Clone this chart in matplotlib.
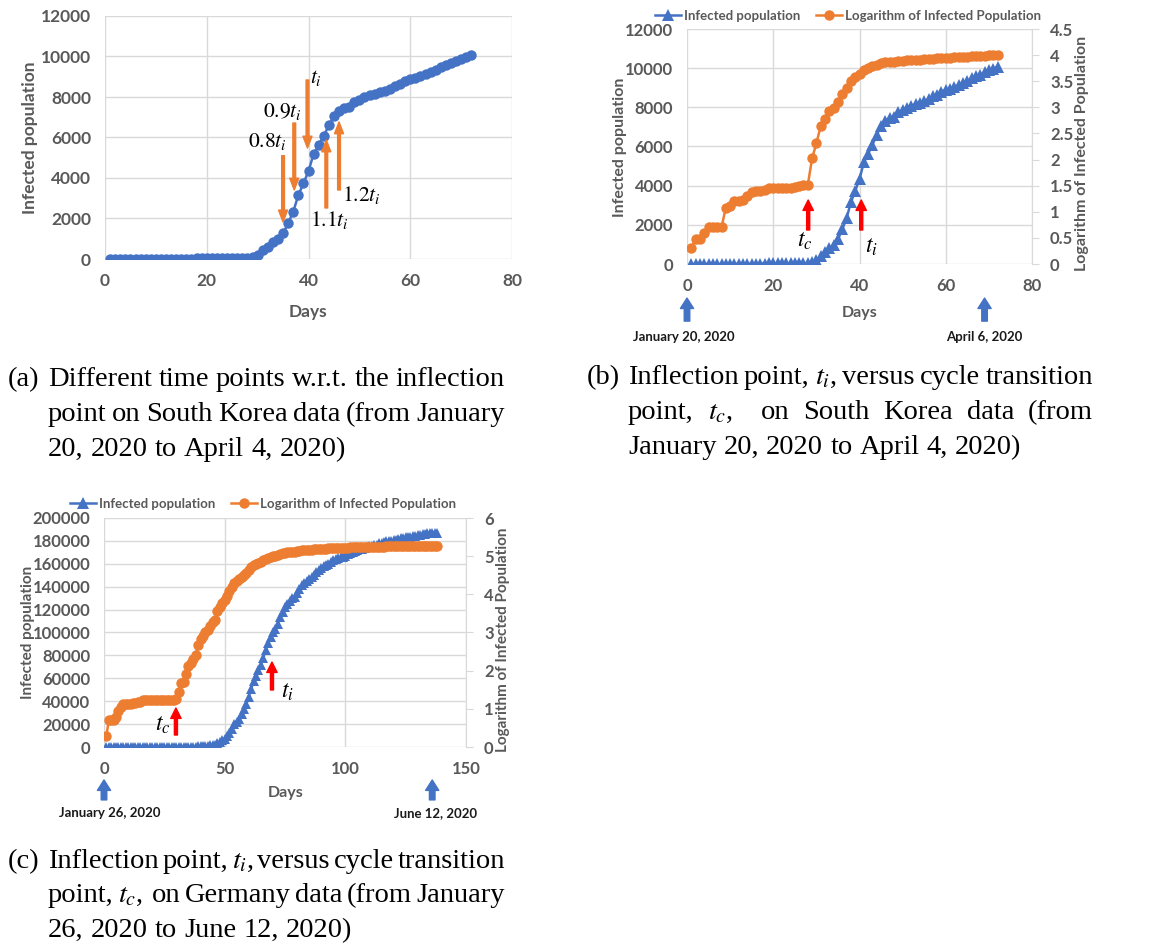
import matplotlib
matplotlib.use('Agg')
import matplotlib.pyplot as plt
from matplotlib.lines import Line2D
import numpy as np

# Dimensioni della figura in pixel
W, H = 1155, 946

# Corea del Sud: casi cumulativi (giorni 1..72)
korea_days = list(range(1, 73))
korea_cases = [1, 2, 2, 3, 4, 4, 4, 4, 11, 12, 15, 15, 16, 19, 23, 24, 24, 25, 27, 28,
               28, 28, 28, 28, 29, 30, 31, 31, 104, 204, 433, 602, 833, 977, 1261, 1766,
               2337, 3150, 3736, 4335, 5186, 5621, 6088, 6593, 7041, 7314, 7478, 7513,
               7755, 7869, 7979, 8086, 8162, 8236, 8320, 8413, 8565, 8652, 8799, 8897,
               8961, 9037, 9137, 9241, 9332, 9478, 9583, 9661, 9786, 9887, 9976, 10062]

# Germania: casi cumulativi (giorni 1..138)
germany_days = list(range(1, 139))
germany_cases = [1, 4, 4, 4, 5,
                 8, 10, 12, 12, 12, 12, 13, 13, 14, 14, 16, 16, 16, 16, 16, 16, 16, 16,
                 16, 16, 16, 16, 16, 16, 17, 27, 46, 48, 79,
                 130, 159, 196, 262, 482, 670, 799, 1040, 1176, 1457, 1908, 2078, 3675,
                 4585, 5795, 7272, 9257, 12327, 15320, 19848, 22213, 24873, 29056, 32986,
                 37323, 43938, 50871, 57695, 62095, 66885, 71808,
                 77872, 84794, 91159, 96092, 100123, 103374, 107663, 113296, 118181,
                 122171, 124908, 127854, 130072, 131359, 134753, 137698, 141397, 143342,
                 145184, 147065, 148291, 150648, 153129, 154999, 156513, 157770, 158758,
                 159912, 161539, 163009,
                 164077, 164967, 165664, 166152, 167007, 168162, 169430, 170588, 171324,
                 171879, 172576, 173171, 174098, 174478, 175233, 175752, 176369, 176551,
                 177778, 178473, 179021, 179710, 179986, 180328, 180600, 181200, 181524,
                 182196, 182922, 183189, 183410,
                 183594, 184121, 184472, 184924, 185450, 185750, 186109, 186506, 186522,
                 186691, 187226, 187267]

korea_log = np.log10(np.array(korea_cases) + 1)
germany_log = np.log10(np.array(germany_cases) + 1)

BLUE = '#4472C4'
ORANGE = '#ED7D31'
GRAY = '#595959'
GRID = '#D9D9D9'

plt.rcParams['font.family'] = ['Lato', 'DejaVu Sans']
plt.rcParams['mathtext.fontset'] = 'stix'

fig = plt.figure(figsize=(W / 100, H / 100), dpi=100)


def fx(x):
    return x / W


def fy(y):
    return 1 - y / H


def make_ax(left, right, top, bottom):
    return fig.add_axes([fx(left), fy(bottom), (right - left) / W, (bottom - top) / H])


def bold_ticks(ax):
    for lab in ax.get_xticklabels() + ax.get_yticklabels():
        lab.set_fontweight('bold')


def style(ax, size):
    ax.grid(True, color=GRID, lw=1.0)
    ax.set_axisbelow(True)
    for s in ax.spines.values():
        s.set_visible(False)
    ax.tick_params(length=0, labelsize=size, labelcolor=GRAY, pad=10)
    bold_ticks(ax)


def arrow(ax, x, y0, y1, color, hw, hl, tw):
    ax.annotate('', xy=(x, y1), xytext=(x, y0),
                arrowprops=dict(arrowstyle=f'simple,head_width={hw},head_length={hl},tail_width={tw}',
                                color=color, shrinkA=0, shrinkB=0, mutation_scale=10),
                annotation_clip=False)


def date_arrow(ax, x, f0, f1):
    ax.annotate('', xy=(x, f1), xytext=(x, f0), xycoords=('data', 'axes fraction'),
                textcoords=('data', 'axes fraction'),
                arrowprops=dict(arrowstyle='simple,head_width=0.95,head_length=0.75,tail_width=0.4',
                                color=BLUE, shrinkA=0, shrinkB=0, mutation_scale=10),
                annotation_clip=False)


def right_axis(ax2, size):
    for s in ax2.spines.values():
        s.set_visible(False)
    ax2.spines['right'].set_visible(True)
    ax2.spines['right'].set_color(GRID)
    ax2.tick_params(axis='y', length=5, color=GRID, labelsize=size, labelcolor=GRAY, pad=8)
    bold_ticks(ax2)


def label(x, y, s, size, rot=0):
    fig.text(fx(x), fy(y), s, rotation=rot, ha='center', va='center',
             fontsize=size, color=GRAY, fontweight='bold')


# ---------------- (a) ----------------
axa = make_ax(105, 512, 16, 259)
axa.plot(korea_days, korea_cases, color=BLUE, lw=1.8, marker='o', ms=7.5, mew=0)
axa.set_xlim(0, 80)
axa.set_ylim(0, 12000)
axa.set_xticks(range(0, 81, 20))
axa.set_yticks(range(0, 12001, 2000))
style(axa, 12.5)
label(30, 138, 'Infected population', 12.5, 90)
label(308, 312, 'Days', 12.5)

# frecce arancioni: (x, coda, punta)
arrows_a = [(35.0, 5100, 1830), (37.2, 6716, 3407), (39.8, 8840, 5480),
            (43.5, 2520, 5877), (46.0, 3407, 6770)]
for x, y0, y1 in arrows_a:
    arrow(axa, x, y0, y1, ORANGE, 0.65, 0.85, 0.2)
labels_a = [(35.8, 5780, '$0.8t_i$', 'right'), (38.7, 7300, '$0.9t_i$', 'right'),
            (40.3, 8940, '$t_i$', 'left'), (40.3, 1930, '$1.1t_i$', 'left'),
            (46.6, 3160, '$1.2t_i$', 'left')]
for x, y, s, ha in labels_a:
    axa.text(x, y, s, ha=ha, va='center', fontsize=15.5)

# ---------------- (b) ----------------
axb = make_ax(687, 1032, 29, 264)
axb.plot(korea_days, korea_cases, color=BLUE, lw=1.8, marker='^', ms=8, mew=0)
axb.set_xlim(0, 80)
axb.set_ylim(0, 12000)
axb.set_xticks(range(0, 81, 20))
axb.set_yticks(range(0, 12001, 2000))
style(axb, 12)
axb2 = axb.twinx()
axb2.plot(korea_days, korea_log, color=ORANGE, lw=1.8, marker='o', ms=7.5, mew=0)
axb2.set_ylim(0, 4.5)
axb2.set_yticks(np.arange(0, 4.51, 0.5))
axb2.set_yticklabels([f'{v:g}' for v in np.arange(0, 4.51, 0.5)])
right_axis(axb2, 12)
label(620, 147, 'Infected population', 11.5, 90)
label(1082, 153, 'Logarithm of Infected Population', 11.5, 90)
label(860, 313, 'Days', 11.5)

arrows_b = [(28.1, 1736, 3268), (40.4, 1736, 3268)]
for x, y0, y1 in arrows_b:
    arrow(axb, x, y0, y1, 'red', 0.75, 0.75, 0.22)
axb.text(27.4, 1175, '$t_c$', ha='center', va='center', fontsize=17)
axb.text(42.7, 870, '$t_i$', ha='center', va='center', fontsize=17)

date_arrow(axb, 0, -0.243, -0.145)
date_arrow(axb, 69, -0.243, -0.145)
fig.text(fx(684), fy(337), 'January 20, 2020', ha='center', va='center', fontsize=9.5,
         color='#1a1a1a', fontweight='bold')
fig.text(fx(984), fy(337), 'April 6, 2020', ha='center', va='center', fontsize=9.5,
         color='#1a1a1a', fontweight='bold')

handles = [Line2D([], [], color=BLUE, lw=1.8, marker='^', ms=8, mew=0),
           Line2D([], [], color=ORANGE, lw=1.8, marker='o', ms=7.5, mew=0)]
names = ['Infected population', 'Logarithm of Infected Population']
leg_font = {'size': 9.5, 'weight': 'bold', 'family': 'Lato'}
fig.legend(handles, names, loc='center', bbox_to_anchor=(fx(848), fy(16)), ncol=2,
           frameon=False, prop=leg_font, labelcolor=GRAY, handlelength=2.0,
           handletextpad=0.2, columnspacing=1.2, borderpad=0)

# ---------------- (c) ----------------
axc = make_ax(104, 466, 518, 747)
axc.plot(germany_days, germany_cases, color=BLUE, lw=1.8, marker='^', ms=7.5, mew=0)
axc.set_xlim(0, 150)
axc.set_ylim(0, 200000)
axc.set_xticks(range(0, 151, 50))
axc.set_yticks(range(0, 200001, 20000))
style(axc, 12)
axc2 = axc.twinx()
axc2.plot(germany_days, germany_log, color=ORANGE, lw=1.8, marker='o', ms=7.5, mew=0)
axc2.set_ylim(0, 6)
axc2.set_yticks(range(0, 7))
right_axis(axc2, 12)
label(28, 632, 'Infected population', 11, 90)
label(503, 640, 'Logarithm of Infected Population', 11, 90)
label(286, 793, 'Days', 11.5)

arrows_c = [(29.8, 10480, 34060), (69.6, 49800, 74200)]
for x, y0, y1 in arrows_c:
    arrow(axc, x, y0, y1, 'red', 0.75, 0.75, 0.22)
axc.text(24.4, 19200, '$t_c$', ha='center', va='center', fontsize=17)
axc.text(76, 48000, '$t_i$', ha='center', va='center', fontsize=17)

date_arrow(axc, 0, -0.231, -0.144)
date_arrow(axc, 136, -0.231, -0.144)
fig.text(fx(110), fy(813), 'January 26, 2020', ha='center', va='center', fontsize=9.5,
         color='#1a1a1a', fontweight='bold')
fig.text(fx(436), fy(813), 'June 12, 2020', ha='center', va='center', fontsize=9.5,
         color='#1a1a1a', fontweight='bold')

fig.legend(handles, names, loc='center', bbox_to_anchor=(fx(263), fy(504)), ncol=2,
           frameon=False, prop=leg_font, labelcolor=GRAY, handlelength=2.0,
           handletextpad=0.2, columnspacing=1.2, borderpad=0)

# ---------------- didascalie giustificate ----------------
CAP = 20.5
renderer = fig.canvas.get_renderer()


def caption(tag, tag_x, lines, x0, x1, baselines):
    fig.text(fx(tag_x), fy(baselines[0]), tag, fontsize=CAP, family='Liberation Serif',
             va='baseline')
    for k, (line, yb) in enumerate(zip(lines, baselines)):
        words = line.split(' ')
        texts = [fig.text(0, fy(yb), w, fontsize=CAP, family='Liberation Serif',
                          va='baseline') for w in words]
        widths = [t.get_window_extent(renderer).width if w else 0 for t, w in zip(texts, words)]
        if k == len(lines) - 1:
            gap = 0.25 * CAP * 100 / 72
        else:
            gap = (x1 - x0 - sum(widths)) / (len(words) - 1)
        x = x0
        for t, w in zip(texts, widths):
            t.set_x(fx(x))
            x += w + gap


caption('(a)', 8, ['Different time points w.r.t. the inflection',
                   'point on South Korea data (from January',
                   '20, 2020 to April 4, 2020)'], 48, 505, [386, 421, 456])
caption('(b)', 587, ['Inflection point, $t_i$, versus cycle transition',
                     'point, $t_c$,  on South Korea data (from',
                     'January 20, 2020 to April 4, 2020)'], 628, 1093, [384, 419, 454])
caption('(c)', 8, ['Inflection point, $t_i$, versus cycle transition',
                   'point, $t_c$,  on Germany data (from January',
                   '26, 2020 to June 12, 2020)'], 48, 505, [868, 902, 937])

fig.savefig('out.png', dpi=100)
